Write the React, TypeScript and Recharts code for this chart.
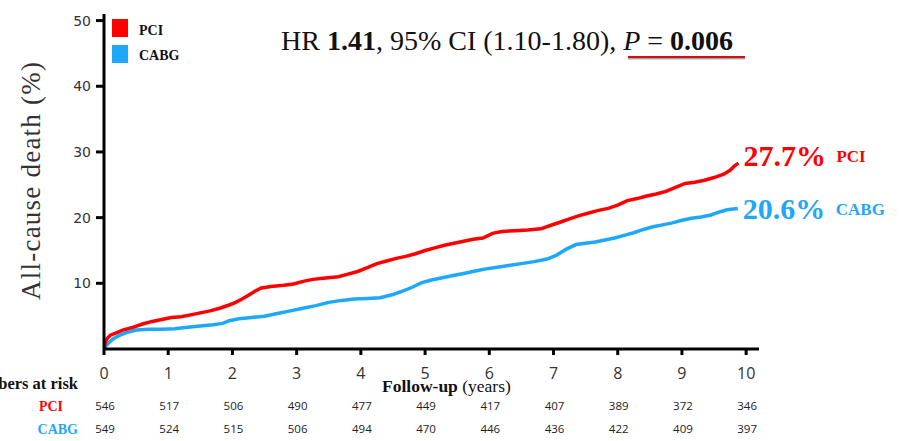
import { LineChart, Line, XAxis, YAxis } from 'recharts';

const RED = '#ff0000';
const BLUE = '#1ea8fa';

// follow-up time (years) and cumulative death (%)
const pciYears = [0, 0.02, 0.05, 0.1, 0.2, 0.3, 0.45, 0.6, 0.75, 0.9, 1.05, 1.2, 1.35, 1.5, 1.65, 1.8, 1.95, 2.05, 2.15, 2.25, 2.35, 2.45, 2.6, 2.8, 2.95, 3.1, 3.25, 3.45, 3.65, 3.8, 3.95, 4.1, 4.25, 4.4, 4.55, 4.7, 4.85, 5.0, 5.15, 5.3, 5.45, 5.6, 5.75, 5.9, 6.05, 6.2, 6.4, 6.6, 6.8, 6.95, 7.1, 7.25, 7.4, 7.55, 7.7, 7.85, 8.0, 8.15, 8.3, 8.45, 8.6, 8.75, 8.9, 9.05, 9.2, 9.35, 9.5, 9.65, 9.75, 9.82, 9.88];
const pciDeath = [0, 1.0, 1.6, 2.1, 2.5, 2.9, 3.3, 3.8, 4.2, 4.5, 4.8, 4.9, 5.2, 5.5, 5.8, 6.2, 6.7, 7.1, 7.6, 8.2, 8.8, 9.3, 9.5, 9.7, 9.9, 10.3, 10.6, 10.8, 11.0, 11.4, 11.8, 12.4, 13.0, 13.4, 13.8, 14.1, 14.5, 15.0, 15.4, 15.8, 16.1, 16.4, 16.7, 16.9, 17.6, 17.9, 18.0, 18.1, 18.3, 18.8, 19.3, 19.8, 20.3, 20.7, 21.1, 21.4, 21.9, 22.6, 22.9, 23.3, 23.6, 24.0, 24.6, 25.2, 25.4, 25.7, 26.1, 26.6, 27.2, 27.9, 28.3];

const cabgYears = [0, 0.03, 0.08, 0.15, 0.25, 0.35, 0.5, 0.7, 0.9, 1.1, 1.3, 1.5, 1.7, 1.85, 1.95, 2.1, 2.3, 2.5, 2.7, 2.9, 3.1, 3.3, 3.5, 3.7, 3.9, 4.1, 4.3, 4.5, 4.65, 4.8, 4.95, 5.1, 5.25, 5.4, 5.6, 5.8, 5.95, 6.1, 6.3, 6.5, 6.7, 6.9, 7.05, 7.2, 7.35, 7.5, 7.65, 7.8, 7.95, 8.1, 8.25, 8.4, 8.55, 8.7, 8.85, 9.0, 9.15, 9.3, 9.45, 9.6, 9.7, 9.8, 9.87];
const cabgDeath = [0, 0.5, 1.0, 1.6, 2.1, 2.5, 2.9, 3.0, 3.0, 3.1, 3.3, 3.5, 3.7, 3.9, 4.3, 4.6, 4.8, 5.0, 5.4, 5.8, 6.2, 6.6, 7.1, 7.4, 7.6, 7.7, 7.8, 8.3, 8.8, 9.4, 10.1, 10.5, 10.8, 11.1, 11.5, 11.9, 12.2, 12.4, 12.7, 13.0, 13.3, 13.7, 14.3, 15.2, 15.9, 16.1, 16.3, 16.6, 16.9, 17.3, 17.7, 18.2, 18.6, 18.9, 19.2, 19.6, 19.9, 20.1, 20.4, 20.9, 21.2, 21.3, 21.4];

const xTicks = [0, 1, 2, 3, 4, 5, 6, 7, 8, 9, 10];
const yTicks = [10, 20, 30, 40, 50];
const pciAtRisk = [546, 517, 506, 490, 477, 449, 417, 407, 389, 372, 346];
const cabgAtRisk = [549, 524, 515, 506, 494, 470, 446, 436, 422, 409, 397];
const pciFinal = '27.7%';
const cabgFinal = '20.6%';

const pciData = pciYears.map((t, i) => ({ t, v: pciDeath[i] }));
const cabgData = cabgYears.map((t, i) => ({ t, v: cabgDeath[i] }));

const serif = "'Liberation Serif', 'Times New Roman', serif";
const sans = "'Open Sans', sans-serif";

function XTick(props: any) {
  const { x, y, payload } = props;
  const i = xTicks.indexOf(payload.value);
  return (
    <g>
      <text x={x} y={y + 24} textAnchor="middle" fontFamily={sans} fontSize={16} fill="#333">
        {payload.value}
      </text>
      <text x={x + 1} y={y + 55} textAnchor="middle" fontFamily={sans} fontSize={11.5} fill="#222">
        {pciAtRisk[i]}
      </text>
      <text x={x + 1} y={y + 78} textAnchor="middle" fontFamily={sans} fontSize={11.5} fill="#222">
        {cabgAtRisk[i]}
      </text>
    </g>
  );
}

function endLabel(last: number, pct: string, name: string, color: string, dy: number) {
  return (props: any) => {
    const { x, y, index } = props;
    if (index !== last) return null;
    return (
      <g>
        <text x={x + 5} y={y + dy} fontFamily={serif} fontWeight="bold" fontSize={30} fill={color}>
          {pct}
        </text>
        <text x={x + 98} y={y + dy - 4} fontFamily={serif} fontWeight="bold" fontSize={17} fill={color}>
          {name}
        </text>
      </g>
    );
  };
}

export default function App() {
  return (
    <div style={{ position: 'absolute', left: 0, top: 0, width: 903, height: 441, background: '#fff' }}>
      <LineChart width={903} height={441} margin={{ top: 14, right: 144, bottom: 0, left: 0 }}>
        <XAxis
          dataKey="t"
          type="number"
          domain={[0, 10.2]}
          ticks={xTicks}
          allowDataOverflow
          height={92}
          tickSize={6}
          tickMargin={0}
          axisLine={{ stroke: '#000', strokeWidth: 3 }}
          tickLine={{ stroke: '#000', strokeWidth: 3 }}
          tick={<XTick />}
        />
        <YAxis
          type="number"
          domain={[0, 51]}
          ticks={yTicks}
          allowDataOverflow
          width={104}
          tickSize={8}
          tickMargin={5}
          axisLine={{ stroke: '#000', strokeWidth: 3 }}
          tickLine={{ stroke: '#000', strokeWidth: 3 }}
          tick={{ fontFamily: "'DejaVu Sans', sans-serif", fontSize: 14, fill: '#333' }}
        />
        <Line
          data={cabgData}
          dataKey="v"
          type="linear"
          stroke={BLUE}
          strokeWidth={3.5}
          dot={false}
          isAnimationActive={false}
          label={endLabel(cabgData.length - 1, cabgFinal, 'CABG', BLUE, 11)}
        />
        <Line
          data={pciData}
          dataKey="v"
          type="linear"
          stroke={RED}
          strokeWidth={3.5}
          dot={false}
          isAnimationActive={false}
          label={endLabel(pciData.length - 1, pciFinal, 'PCI', RED, 3)}
        />
      </LineChart>
      <svg width={903} height={441} style={{ position: 'absolute', left: 0, top: 0, pointerEvents: 'none' }}>
        {/* legend */}
        <rect x={112} y={19} width={16} height={18} fill={RED} />
        <rect x={112} y={45} width={16} height={18} fill={BLUE} />
        <text x={139} y={35} fontFamily={serif} fontWeight="bold" fontSize={14} fill="#111">PCI</text>
        <text x={139} y={60} fontFamily={serif} fontWeight="bold" fontSize={14} fill="#111">CABG</text>

        {/* hazard ratio */}
        <text x={281} y={50} fontFamily={serif} fontSize={28} fill="#111">
          HR <tspan fontWeight="bold">1.41</tspan>, 95% CI (1.10-1.80), <tspan fontStyle="italic">P</tspan> = <tspan fontWeight="bold">0.006</tspan>
        </text>
        <line x1={628} y1={58.5} x2={745} y2={58.5} stroke="#555" strokeWidth={2} opacity={0.5} />
        <line x1={628} y1={57} x2={745} y2={57} stroke="#d01010" strokeWidth={2} />

        {/* axis titles */}
        <text
          transform="translate(40,181) rotate(-90)"
          textAnchor="middle"
          fontFamily={serif}
          fontSize={27}
          fill="#333"
          textLength={238}
          lengthAdjust="spacing"
        >
          All-cause death  (%)
        </text>
        <text x={382} y={392} fontFamily={serif} fontSize={17.5} fill="#111">
          <tspan fontWeight="bold">Follow-up</tspan> (years)
        </text>

        {/* numbers at risk */}
        <text x={78} y={389} textAnchor="end" fontFamily={serif} fontWeight="bold" fontSize={16.5} fill="#111">Numbers at risk</text>
        <text x={63} y={411} textAnchor="end" fontFamily={serif} fontWeight="bold" fontSize={14} fill={RED}>PCI</text>
        <text x={78} y={434} textAnchor="end" fontFamily={serif} fontWeight="bold" fontSize={14} fill={BLUE}>CABG</text>
      </svg>
    </div>
  );
}
